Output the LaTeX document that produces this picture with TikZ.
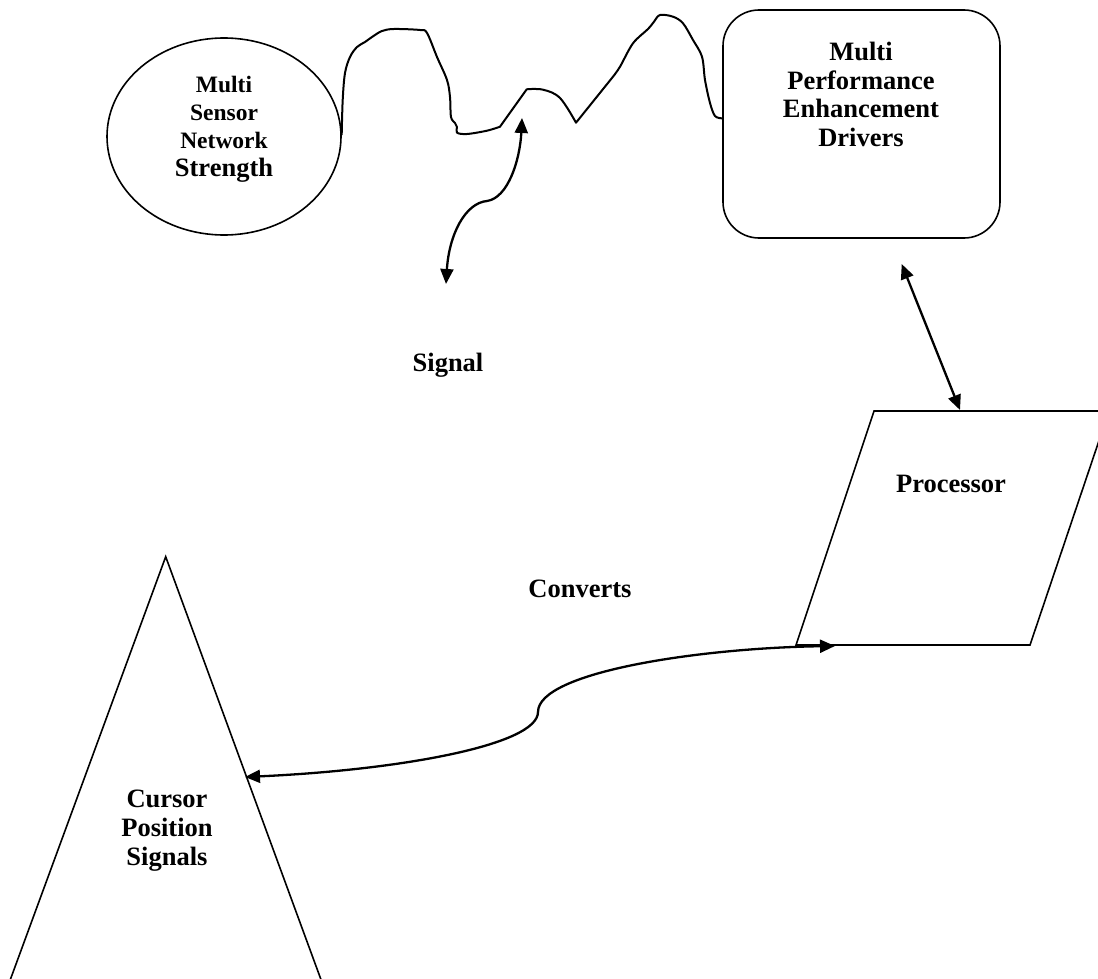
\documentclass[tikz,border=0pt]{standalone}
\usepackage{fontspec}
\setmainfont{Liberation Serif}
\usetikzlibrary{shapes.geometric,arrows.meta}
\tikzset{
  shape line/.style={draw=black,line width=1.6pt},
  conn/.style={draw=black,line width=2.3pt,{Triangle[length=15pt,width=13pt]}-{Triangle[length=15pt,width=13pt]}},
  wave/.style={draw=black,line width=2pt,line join=round},
  lbl/.style={anchor=base,inner sep=0pt,font=\bfseries\fontsize{26.5}{28}\selectfont},
  lbls/.style={anchor=base,inner sep=0pt,font=\bfseries\fontsize{23.5}{26}\selectfont},
}
\begin{document}
\begin{tikzpicture}[x=1pt,y=-1pt]
\clip (0,0) rectangle (1098,979);
\fill[white] (0,0) rectangle (1098,979);
% shapes
\node[shape line,ellipse,minimum width=234pt,minimum height=197pt,inner sep=0pt] (sensor) at (224,136.5) {};
\node[shape line,rectangle,rounded corners=36pt,minimum width=277pt,minimum height=228pt,inner sep=0pt] (drivers) at (861.5,124) {};
\draw[shape line] (874,411) -- (1109,411) -- (1030,645) -- (796,645) -- cycle;
\draw[shape line] (6.5,990) -- (165.7,556.7) -- (324.8,990);
% connector end points
\coordinate (sigtop) at (522,118);
\coordinate (sigbot) at (446,284);
\coordinate (drvb) at (901.7,264);
\coordinate (proct) at (960,410);
\coordinate (procb) at (835,646);
\coordinate (curs) at (245,777);
\coordinate (wavestart) at (341.7,135);
\coordinate (waveend) at (722,118.3);
% texts
\node[lbls] (s1) at (224,93) {Multi};
\node[lbls] (s2) at (224,121) {Sensor};
\node[lbls] (s3) at (224,148.5) {Network};
\node[lbl] (s4) at (224,177) {Strength};
\node[lbl] (d1) at (861,61) {Multi};
\node[lbl] (d2) at (861,89.5) {Performance};
\node[lbl] (d3) at (861,117.5) {Enhancement};
\node[lbl] (d4) at (861,147) {Drivers};
\node[lbl] (proc) at (951,492) {Processor};
\node[lbl] (sig) at (448,371) {Signal};
\node[lbl] (conv) at (580,597) {Converts};
\node[lbl] (c1) at (167,807) {Cursor};
\node[lbl] (c2) at (167,836.5) {Position};
\node[lbl] (c3) at (167,865) {Signals};
% wavy line
\draw[wave] (wavestart) -- plot[smooth,tension=0.55] coordinates {(341.7,135) (342.7,100) (345,73) (350,57) (357,47) (365,42) (372,37) (382,31) (394,29) (420,30) (427,33) (437,57) (447,80) (450,97) (451,117) (455,123) (457,127) (457,132.7) (467,134) (487,130.7) (500,126.7)}
  -- (526.7,89.3) -- plot[smooth,tension=0.6] coordinates {(526.7,89.3) (543,89.7) (560,98) (576,122.7)}
  -- (613,76.7) -- plot[smooth,tension=0.55] coordinates {(613,76.7) (620,66.7) (633,43.3) (648,29) (654,21.7) (660,15) (673,16.7) (683,23.3) (693,40) (702,56.7) (705,80) (710,103) (715,116) (722,118.3)} -- (waveend);
% connectors
\draw[conn] (sigbot) .. controls (449,235) and (465,203) .. (487,201) .. controls (508,198) and (520,160) .. (sigtop);
\draw[conn] (drvb) -- (proct);
\draw[conn] (curs) .. controls (400,770) and (538,745) .. (538,712) .. controls (538,672) and (700,648) .. (procb);
\end{tikzpicture}
\end{document}
